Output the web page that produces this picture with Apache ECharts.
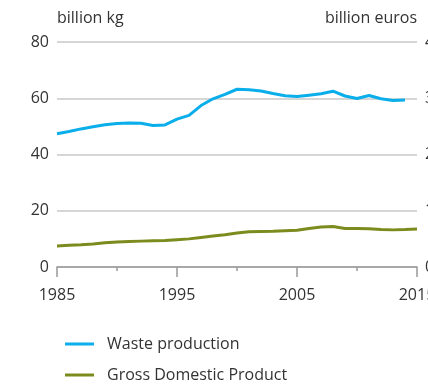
<!DOCTYPE html>
<html><head><meta charset="utf-8">
<script src="https://cdn.jsdelivr.net/npm/echarts@6/dist/echarts.min.js"></script>
<style>html,body{margin:0;padding:0;background:#fff}#c{width:428px;height:384px}</style>
</head><body><div id="c"></div>
<script>
var wasteYears = [1985,1986,1987,1988,1989,1990,1991,1992,1993,1994,1995,1996,1997,1998,1999,2000,2001,2002,2003,2004,2005,2006,2007,2008,2009,2010,2011,2012,2013,2014];
var wasteValues = [47.4,48.2,49.1,49.9,50.6,51.0,51.2,51.1,50.3,50.5,52.6,53.9,57.4,59.8,61.4,63.2,63.0,62.6,61.7,60.9,60.6,61.1,61.6,62.5,60.8,59.9,61.0,59.8,59.2,59.4];
var gdpYears = [1985,1986,1987,1988,1989,1990,1991,1992,1993,1994,1995,1996,1997,1998,1999,2000,2001,2002,2003,2004,2005,2006,2007,2008,2009,2010,2011,2012,2013,2014,2015];
var gdpValues = [375,385,395,410,430,445,455,460,465,470,485,500,525,550,575,605,625,630,635,645,655,685,710,720,685,685,680,665,660,665,675];
var leftTicks = [0,20,40,60,80];
var rightTicks = [0,1000,2000,3000,4000];
var xLabels = [1985,1995,2005,2015];

var font = 'Open Sans';
var fs = 16;
var txt = '#333';
var legendBase = {
  orient:'vertical', left:60, itemWidth:29, itemHeight:16,
  icon:'path://M0,7 L29,7 L29,10 L0,10 Z',
  textStyle:{fontFamily:font,fontSize:fs,color:txt,padding:[0,0,0,8]}
};
var chart = echarts.init(document.getElementById('c'), null, {renderer:'canvas'});
chart.setOption({
  animation:false,
  grid:{left:57,right:11,top:42,bottom:117,outerBoundsMode:'none',containLabel:false},
  legend:[
    Object.assign({}, legendBase, {top:331, data:['Waste production']}),
    Object.assign({}, legendBase, {top:362, data:['Gross Domestic Product']})
  ],
  graphic:[
    {type:'text',left:57,top:10,style:{text:'billion kg',font:fs+'px "Open Sans"',fill:txt}},
    {type:'text',right:11,top:10,style:{text:'billion euros',font:fs+'px "Open Sans"',fill:txt}}
  ],
  xAxis:{
    type:'value', min:xLabels[0], max:xLabels[xLabels.length-1], interval:10,
    axisLine:{show:true,lineStyle:{color:'#999',width:1.5}},
    axisTick:{show:true,length:10,lineStyle:{color:'#999',width:1.5}},
    minorTick:{show:true,splitNumber:2,length:4,lineStyle:{color:'#999',width:1.5}},
    splitLine:{show:false},
    axisLabel:{margin:20,fontFamily:font,fontSize:fs,color:txt,showMaxLabel:true,
      formatter:function(v){return String(v);}}
  },
  yAxis:[
    {type:'value',min:leftTicks[0],max:leftTicks[leftTicks.length-1],interval:20,
      axisLine:{show:false},axisTick:{show:false},
      splitLine:{lineStyle:{color:'#c8c8c8',width:1.5}},
      axisLabel:{margin:8,fontFamily:font,fontSize:fs,color:txt}},
    {type:'value',min:rightTicks[0],max:rightTicks[rightTicks.length-1],interval:1000,
      axisLine:{show:false},axisTick:{show:false},splitLine:{show:false},
      axisLabel:{margin:8,fontFamily:font,fontSize:fs,color:txt,formatter:function(v){return String(v);}}}
  ],
  series:[
    {name:'Waste production',type:'line',yAxisIndex:0,symbol:'none',
      lineStyle:{color:'#0aaeea',width:3,join:'round'},itemStyle:{color:'#0aaeea'},
      data:wasteYears.map(function(y,i){return [y,wasteValues[i]];})},
    {name:'Gross Domestic Product',type:'line',yAxisIndex:1,symbol:'none',
      lineStyle:{color:'#7c8b1d',width:3,join:'round'},itemStyle:{color:'#7c8b1d'},
      data:gdpYears.map(function(y,i){return [y,gdpValues[i]];})}
  ]
});
</script></body></html>
